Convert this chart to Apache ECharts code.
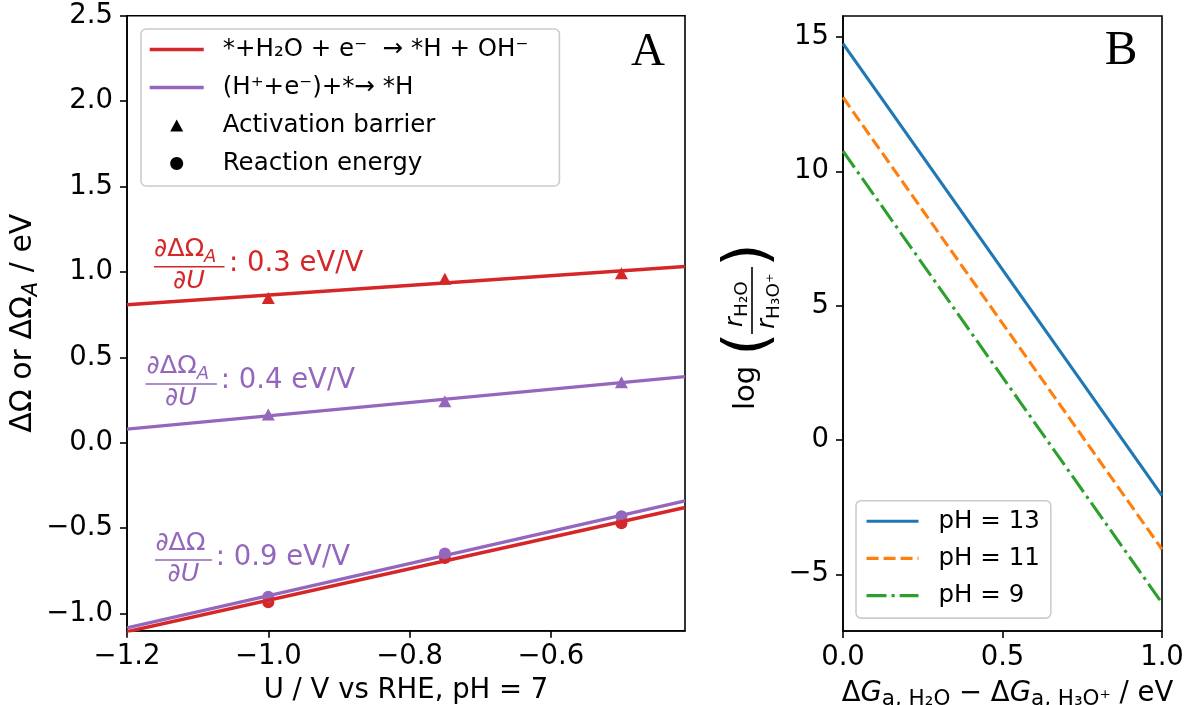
<!DOCTYPE html>
<html><head><meta charset="utf-8">
<script src="https://cdn.jsdelivr.net/npm/echarts@6/dist/echarts.min.js"></script>
<style>html,body{margin:0;padding:0;background:#fff}#c{width:1186px;height:705px}</style>
</head><body><div id="c"></div>
<script>
// ---------- Panel A data ----------
const uValues = [-1.0, -0.75, -0.5];
const barrierH2O = [0.847, 0.96, 0.993];
const barrierH3O = [0.165, 0.243, 0.354];
const reactionH2O = [-0.933, -0.675, -0.471];
const reactionH3O = [-0.901, -0.648, -0.43];
const fitU = [-1.2, -0.41];
const fitBarrierH2O = [0.808, 1.032];
const fitBarrierH3O = [0.08, 0.387];
const fitReactionH2O = [-1.106, -0.379];
const fitReactionH3O = [-1.083, -0.34];
const ticksAX = [-1.2, -1.0, -0.8, -0.6];
const ticksAY = [-1.0, -0.5, 0.0, 0.5, 1.0, 1.5, 2.0, 2.5];
// ---------- Panel B data ----------
const dG = [0, 1];
const pH13 = [14.75, -2.07];
const pH11 = [12.75, -4.07];
const pH9 = [10.75, -6.07];
const ticksBX = [0, 0.5, 1.0];
const ticksBY = [-5, 0, 5, 10, 15];

const FONT = 'DejaVu Sans';
const RED = '#d62728', PURPLE = '#9467bd', BLUE = '#1f77b4', ORANGE = '#ff7f0e', GREEN = '#2ca02c';
const redName = '*+H\u2082O + e\u207b  \u2192 *H + OH\u207b';
const purpleName = '(H\u207a+e\u207b)+*\u2192 *H';
const TRI_ICON = 'path://M0,0L0.01,0L0,0.01Z M20.5,12.5L27,0.5L33.5,12.5Z M54,13L53.99,13L54,12.99Z';
const DOT_ICON = 'path://M0,0L0.01,0L0,0.01Z M33.5,6.5C33.5,10.09 30.59,13 27,13C23.41,13 20.5,10.09 20.5,6.5C20.5,2.91 23.41,0 27,0C30.59,0 33.5,2.91 33.5,6.5Z M54,13L53.99,13L54,12.99Z';

function fmt(d) { return v => (v < 0 ? '\u2212' : '') + Math.abs(v).toFixed(d); }
function pairs(xs, ys) { return xs.map((x, i) => [x, ys[i]]); }

function axis(common) {
  return Object.assign({
    type: 'value',
    axisLine: { show: true, onZero: false, lineStyle: { color: '#000', width: 1.6 } },
    splitLine: { show: false },
    nameTextStyle: { fontFamily: FONT, fontSize: 27.5, color: '#000' }
  }, common);
}
function ticks(vals, d, margin) {
  return {
    axisTick: { show: true, inside: false, length: 7, lineStyle: { color: '#000', width: 1.6 }, customValues: vals },
    axisLabel: { customValues: vals, formatter: fmt(d), fontFamily: FONT, fontSize: 27.5, color: '#000', margin: margin }
  };
}

const lineS = (name, xi, xs, ys, color, width, type) => ({
  type: 'line', name, xAxisIndex: xi, yAxisIndex: xi, data: pairs(xs, ys),
  symbol: 'none', showSymbol: false, color: color, clip: true,
  lineStyle: { color, width, type: type || 'solid' }, itemStyle: { color }, silent: true, animation: false
});
const scatS = (name, ys, color, symbol, size) => ({
  type: 'scatter', name, xAxisIndex: 0, yAxisIndex: 0, data: pairs(uValues, ys),
  symbol, symbolSize: size, itemStyle: { color, opacity: 1 }, silent: true, animation: false
});

const annRich = (c) => ({
  a: { fontSize: 25.5, fontFamily: FONT, fill: c, color: c, lineHeight: 28 },
  i: { fontSize: 25.5, fontFamily: FONT, fontStyle: 'italic', fill: c, color: c, lineHeight: 28 },
  s: { fontSize: 18, fontFamily: FONT, fontStyle: 'italic', fill: c, color: c, lineHeight: 12, padding: [16, 0, 0, 0] }
});
function txt(text, x, y, o) {
  return { type: 'text', z: 100, silent: true, style: Object.assign({
    text, x, y, fill: '#000', fontFamily: FONT, fontSize: 27.5,
    align: 'left', verticalAlign: 'middle', textAlign: 'left', textVerticalAlign: 'middle'
  }, o) };
}
function hline(x1, x2, y, c) {
  return { type: 'line', z: 100, silent: true, shape: { x1, y1: y, x2, y2: y }, style: { stroke: c, lineWidth: 1.6 } };
}
function fraction(c, numText, numX, numY, barX1, barX2, barY, denX, denY, label, labX, labY) {
  return [
    txt(numText, numX, numY, { fill: c, rich: annRich(c) }),
    hline(barX1, barX2, barY, c),
    txt('{a|\u2202}{i|U}', denX, denY, { fill: c, rich: annRich(c), align: 'center', textAlign: 'center' }),
    txt(label, labX, labY, { fill: c, fontSize: 27.5 })
  ];
}
const fracRich = {
  r: { fontSize: 24, fontFamily: FONT, fontStyle: 'italic', fill: '#000', lineHeight: 24 },
  s: { fontSize: 18.5, fontFamily: FONT, fill: '#000', lineHeight: 12, padding: [12, 0, 0, 0] }
};

const graphics = [].concat(
  fraction(RED, '{a|\u2202\u0394\u03a9}{s|A}', 154, 249.6, 154, 224.5, 266.7, 189, 281.3, ': 0.3 eV/V', 229, 263.7),
  fraction(PURPLE, '{a|\u2202\u0394\u03a9}{s|A}', 146.6, 366.3, 145.5, 216.9, 384, 181, 398.6, ': 0.4 eV/V', 220.7, 380.4),
  fraction(PURPLE, '{a|\u2202\u0394\u03a9}', 155.4, 543, 155, 212, 560, 183.5, 574.3, ': 0.9 eV/V', 215.7, 557.7),
  [
    txt('A', 648, 52.8, { fontFamily: 'Liberation Serif', fontSize: 47, align: 'center', textAlign: 'center' }),
    txt('B', 1121, 51.4, { fontFamily: 'Liberation Serif', fontSize: 49, align: 'center', textAlign: 'center' }),
    {
      type: 'group', x: 752, y: 331, rotation: Math.PI / 2, z: 100, silent: true,
      children: [
        txt('log', -57, -6, { fontSize: 29, align: 'center', textAlign: 'center' }),
        txt('(', -13, -2, { fontSize: 60, align: 'center', textAlign: 'center' }),
        hline(-3, 64, 0, '#000'),
        txt('{r|r}{s|H\u2082O}', 27, -16, { align: 'center', textAlign: 'center', rich: fracRich }),
        txt('{r|r}{s|H\u2083O\u207a}', 30, 16, { align: 'center', textAlign: 'center', rich: fracRich }),
        txt(')', 76, -2, { fontSize: 60, align: 'center', textAlign: 'center' })
      ]
    }
  ]
);

const legendCommon = {
  orient: 'vertical', itemHeight: 13,
  backgroundColor: 'rgba(255,255,255,0.8)', borderColor: '#cccccc', borderWidth: 1.6, borderRadius: 5,
  symbolKeepAspect: true, selectedMode: false,
  lineStyle: { width: 'inherit', type: 'inherit' }
};

const option = {
  animation: false,
  backgroundColor: '#fff',
  grid: [
    { left: 127, top: 15.7, width: 558, height: 615, show: true, borderColor: '#000', borderWidth: 1.6, backgroundColor: 'transparent', containLabel: false, outerBoundsMode: 'none' },
    { left: 843, top: 16, width: 319, height: 615, show: true, borderColor: '#000', borderWidth: 1.6, backgroundColor: 'transparent', containLabel: false, outerBoundsMode: 'none' }
  ],
  xAxis: [
    axis(Object.assign({ gridIndex: 0, min: -1.2, max: -0.41, name: 'U / V vs RHE, pH = 7', nameLocation: 'middle', nameGap: 46.6 }, ticks(ticksAX, 1, 12.5))),
    axis(Object.assign({ gridIndex: 1, min: 0, max: 1, name: '{a|\u0394}{i|G}{s|a, H\u2082O}{a| \u2212 \u0394}{i|G}{s|a, H\u2083O\u207a}{a| / eV}', nameLocation: 'middle', nameGap: 45.5,
      nameTextStyle: { fontFamily: FONT, fontSize: 27.5, color: '#000', padding: [0, 0, 0, 10], rich: {
        a: { fontFamily: FONT, fontSize: 27.5, color: '#000', lineHeight: 28 },
        i: { fontFamily: FONT, fontSize: 27.5, fontStyle: 'italic', color: '#000', lineHeight: 28 },
        s: { fontFamily: FONT, fontSize: 21.5, color: '#000', lineHeight: 14, padding: [12, 0, 0, 0] } } } }, ticks(ticksBX, 1, 12.5)))
  ],
  yAxis: [
    axis(Object.assign({ gridIndex: 0, min: -1.1, max: 2.5, name: '{a|\u0394\u03a9 or \u0394\u03a9}{s|A}{a| / eV}', nameLocation: 'middle', nameRotate: 90, nameGap: 86,
      nameTextStyle: { fontFamily: FONT, fontSize: 30, color: '#000', rich: {
        a: { fontFamily: FONT, fontSize: 30, color: '#000', lineHeight: 30 },
        s: { fontFamily: FONT, fontSize: 21, fontStyle: 'italic', color: '#000', lineHeight: 12, padding: [18, 0, 0, 0] } } } }, ticks(ticksAY, 1, 14))),
    axis(Object.assign({ gridIndex: 1, min: -7.11, max: 15.78 }, ticks(ticksBY, 0, 14)))
  ],
  legend: [
    Object.assign({}, legendCommon, {
      left: 141, top: 29, padding: [8, 31, 10, 7], itemGap: 13, itemWidth: 54,
      textStyle: { fontFamily: FONT, fontSize: 24.5, color: '#000', lineHeight: 24.5, padding: [0, 0, 0, 14] },
      data: [
        { name: redName, itemStyle: { opacity: 0 } },
        { name: purpleName, itemStyle: { opacity: 0 } },
        { name: 'Activation barrier', icon: TRI_ICON, itemStyle: { color: '#000' } },
        { name: 'Reaction energy', icon: DOT_ICON, itemStyle: { color: '#000' } }
      ]
    }),
    Object.assign({}, legendCommon, {
      left: 856, top: 500.7, padding: [8, 11, 10, 9], itemGap: 12.2, itemWidth: 52,
      textStyle: { fontFamily: FONT, fontSize: 24.5, color: '#000', lineHeight: 24.5, padding: [0, 0, 0, 15] },
      data: [
        { name: 'pH = 13', itemStyle: { opacity: 0 } },
        { name: 'pH = 11', itemStyle: { opacity: 0 } },
        { name: 'pH = 9', itemStyle: { opacity: 0 } }
      ]
    })
  ],
  series: [
    lineS(redName, 0, fitU, fitBarrierH2O, RED, 3.4),
    lineS(redName, 0, fitU, fitReactionH2O, RED, 3.4),
    scatS('Activation barrier', barrierH2O, RED, 'triangle', [13, 12]),
    scatS('Reaction energy', reactionH2O, RED, 'circle', 12),
    lineS(purpleName, 0, fitU, fitBarrierH3O, PURPLE, 3.4),
    lineS(purpleName, 0, fitU, fitReactionH3O, PURPLE, 3.4),
    scatS('Activation barrier', barrierH3O, PURPLE, 'triangle', [13, 12]),
    scatS('Reaction energy', reactionH3O, PURPLE, 'circle', 12),
    lineS('pH = 13', 1, dG, pH13, BLUE, 3.1, 'solid'),
    lineS('pH = 11', 1, dG, pH11, ORANGE, 3.1, [12, 5]),
    lineS('pH = 9', 1, dG, pH9, GREEN, 3.1, [20, 5, 3.1, 5])
  ],
  graphic: graphics
};
const chart = echarts.init(document.getElementById('c'));
chart.setOption(option);
</script></body></html>
